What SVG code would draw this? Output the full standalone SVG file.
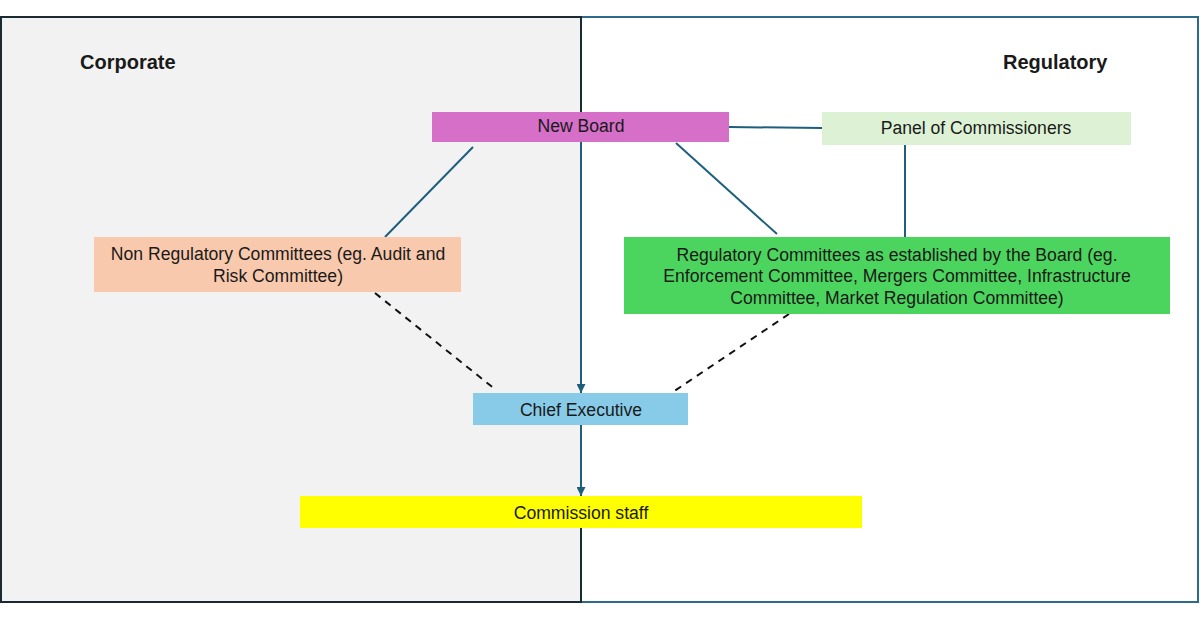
<svg xmlns="http://www.w3.org/2000/svg" width="1200" height="630" viewBox="0 0 1200 630">
<defs>
<marker id="arr" viewBox="0 0 10 10" refX="10" refY="5" markerWidth="9" markerHeight="9" markerUnits="userSpaceOnUse" orient="auto"><path d="M0,0 L10,5 L0,10 z" fill="#1f5f7e"/></marker>
<style>
text{font-family:"Liberation Sans",Arial,sans-serif;font-size:17.6px;fill:#1a1a1a;text-anchor:middle;dominant-baseline:central}
.h{font-weight:bold;font-size:20px;text-anchor:start}
.c{stroke:#1f5f7e;stroke-width:2;fill:none}
.d{stroke:#111;stroke-width:2;fill:none;stroke-dasharray:7 6}
</style>
</defs>
<rect width="1200" height="630" fill="#fff"/>
<g id="panel-regulatory"><rect x="581" y="17" width="617" height="585" fill="#fff" stroke="#2e6b8a" stroke-width="2"/><text class="h" x="1003" y="62">Regulatory</text></g>
<g id="panel-corporate"><rect x="1" y="17" width="580" height="585" fill="#f2f2f2" stroke="#1a2a33" stroke-width="2"/><text class="h" x="80" y="62">Corporate</text></g>
<g id="connectors">
<line class="c" x1="729" y1="127" x2="822" y2="128"/>
<line class="c" x1="905" y1="145" x2="905" y2="237"/>
<line class="c" x1="473" y1="147" x2="385" y2="237"/>
<line class="c" x1="676" y1="143" x2="777" y2="234"/>
<line class="c" x1="581" y1="142" x2="581" y2="393" marker-end="url(#arr)"/>
<line class="c" x1="581" y1="425" x2="581" y2="496" marker-end="url(#arr)"/>
<line class="d" x1="375" y1="293" x2="496" y2="390"/>
<line class="d" x1="789" y1="314" x2="673" y2="392"/>
</g>
<g id="new-board"><rect x="432" y="112" width="297" height="30" fill="#d56fc8"/><text x="581" y="126">New Board</text></g>
<g id="panel-of-commissioners"><rect x="822" y="112" width="309" height="33" fill="#ddf2d5"/><text x="976" y="128">Panel of Commissioners</text></g>
<g id="non-regulatory-committees"><rect x="94" y="237" width="367" height="55" fill="#f8c9ad"/><text x="278" y="254">Non Regulatory Committees (eg. Audit and</text><text x="278" y="276">Risk Committee)</text></g>
<g id="regulatory-committees"><rect x="624" y="237" width="546" height="77" fill="#4cd55e"/><text x="897" y="255">Regulatory Committees as established by the Board (eg.</text><text x="897" y="276">Enforcement Committee, Mergers Committee, Infrastructure</text><text x="897" y="298">Committee, Market Regulation Committee)</text></g>
<g id="chief-executive"><rect x="473" y="393" width="215" height="32" fill="#87cbe8"/><text x="581" y="410">Chief Executive</text></g>
<g id="commission-staff"><rect x="300" y="496" width="562" height="32" fill="#ffff00"/><text x="581" y="513">Commission staff</text></g>
</svg>
